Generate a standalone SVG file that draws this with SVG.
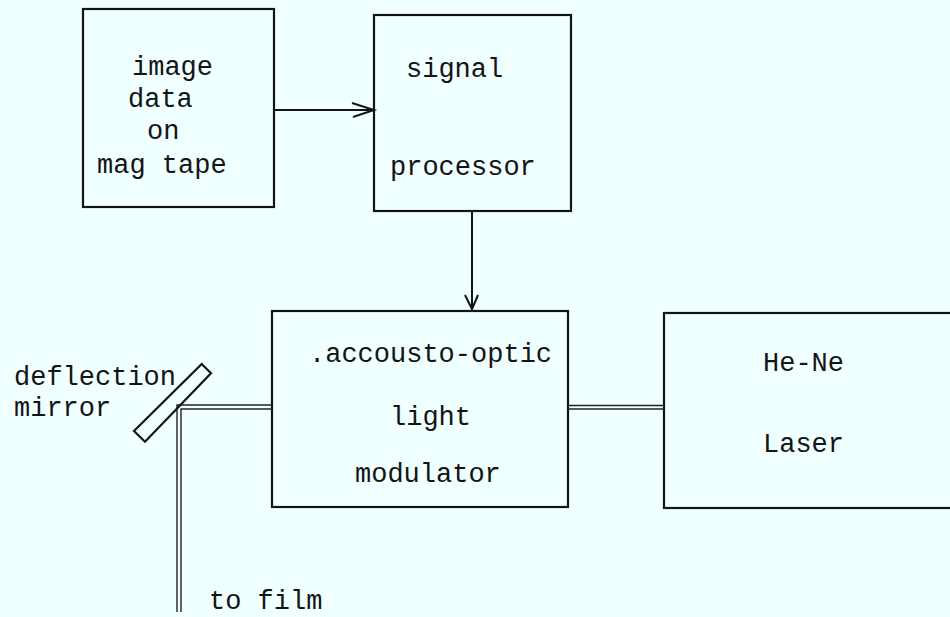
<svg xmlns="http://www.w3.org/2000/svg" width="950" height="617" viewBox="0 0 950 617">
<style>
.box{fill:none;stroke:#141414;stroke-width:2.2}
.ln{fill:none;stroke:#141414;stroke-width:2}
.beam{fill:none;stroke:#222;stroke-width:1.4}
text{font-family:"Liberation Mono","DejaVu Sans Mono",monospace;font-size:27px;fill:#141414}
</style>
<rect width="950" height="617" fill="#F0FFFF"/>
<g id="connectors">
<path class="ln" d="M274,110 H374"/>
<path class="ln" d="M352,103 L374,110 L353,117"/>
<path class="ln" d="M472,211 V310"/>
<path class="ln" d="M465,295 L472,309 L478,295"/>
<path class="beam" d="M177,612 V405 H272"/>
<path class="beam" d="M181,612 V409 H272"/>
<path class="beam" d="M568,405.5 H664"/>
<path class="beam" d="M568,409 H664"/>
</g>
<g id="image-data">
<rect class="box" x="83" y="9" width="191" height="198"/>
<text x="132" y="75">image</text>
<text x="128" y="107">data</text>
<text x="147" y="139">on</text>
<text x="97" y="173">mag tape</text>
</g>
<g id="signal-processor">
<rect class="box" x="374" y="15" width="197" height="196"/>
<text x="406" y="77">signal</text>
<text x="390" y="175">processor</text>
</g>
<g id="modulator">
<rect class="box" x="272" y="311" width="296" height="196"/>
<text x="309" y="362">.accousto-optic</text>
<text x="390" y="425">light</text>
<text x="355" y="482">modulator</text>
</g>
<g id="laser">
<rect class="box" x="664" y="313" width="300" height="195"/>
<text x="763" y="371">He-Ne</text>
<text x="763" y="452">Laser</text>
</g>
<g id="mirror">
<polygon class="box" points="201.7,364 211,373.3 145,441.7 134,431"/>
<text x="14" y="385">deflection</text>
<text x="14" y="416">mirror</text>
</g>
<g id="film">
<text x="209" y="609">to film</text>
</g>
</svg>
